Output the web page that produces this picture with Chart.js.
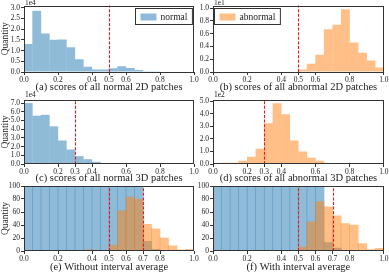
<!DOCTYPE html>
<html>
<head>
<meta charset="utf-8">
<script src="https://cdn.jsdelivr.net/npm/chart.js@4.4.1/dist/chart.umd.min.js"></script>
<style>
  html, body { margin: 0; padding: 0; background: #fff; }
  #wrap { position: relative; width: 389px; height: 272px; overflow: hidden; }
  canvas { position: absolute; }
</style>
</head>
<body>
<div id="wrap">
  <canvas id="panelA"></canvas>
  <canvas id="panelB"></canvas>
  <canvas id="panelC"></canvas>
  <canvas id="panelD"></canvas>
  <canvas id="panelE"></canvas>
  <canvas id="panelF"></canvas>
</div>
<script>
// histogram bins of width 0.05 on [0, 1]
const binCenters = [0.025, 0.075, 0.125, 0.175, 0.225, 0.275, 0.325, 0.375, 0.425, 0.475,
                    0.525, 0.575, 0.625, 0.675, 0.725, 0.775, 0.825, 0.875, 0.925, 0.975];

// (a) normal 2D (x1e4), (b) abnormal 2D (x1e1)
const normal2D   = [1.30, 2.85, 1.80, 1.50, 1.52, 1.15, 0.60, 0.24, 0.12, 0.12, 0.17, 0.27, 0.19, 0.09, 0.04, 0.01, 0, 0, 0, 0];
const abnormal2D = [0, 0, 0, 0, 0, 0, 0, 0, 0, 0, 0.04, 0.13, 0.27, 0.67, 0.74, 0.98, 0.46, 0.30, 0.18, 0.07];
// (c) normal 3D (x1e4), (d) abnormal 3D (x1e2)
const normal3D   = [7.00, 5.55, 5.65, 4.33, 2.70, 1.67, 0.90, 0.55, 0.25, 0.07, 0.02, 0, 0, 0, 0, 0, 0, 0, 0, 0];
const abnormal3D = [0.08, 0.10, 0.10, 0.26, 0.57, 1.22, 3.25, 4.85, 3.96, 1.87, 1.00, 0.50, 0.26, 0.05, 0.02, 0, 0, 0, 0, 0];
// (e) without / (f) with interval average; y axis cut at 100, normal counts go far above it
const normalNoAvg   = [9000, 7100, 7200, 5600, 3500, 2200, 1200, 700, 420, 260, 190, 160, 140, 115, 15, 2.5, 0, 0, 0, 0];
const abnormalNoAvg = [0, 0, 0, 0, 0, 0, 0, 2, 0, 0, 9, 62, 83, 79.5, 41, 34, 20, 8, 1.5, 2.5];
const normalAvg     = [9000, 7100, 7200, 5600, 3500, 2200, 1200, 700, 420, 260, 190, 150, 120, 13, 4.5, 0, 0, 0, 0, 0];
const abnormalAvg   = [0, 0, 0, 0, 0, 0, 0, 0, 0, 0, 6, 45, 76, 68, 54, 42, 40, 11.5, 2, 4];

const xTicks2D  = [0, 0.2, 0.4, 0.5, 0.6, 0.8, 1.0];
const xTicks3D  = [0, 0.2, 0.3, 0.4, 0.6, 0.8, 1.0];
const xTicksMix = [0, 0.2, 0.4, 0.5, 0.6, 0.7, 0.8, 1.0];
const yTicksA = [0, 0.5, 1.0, 1.5, 2.0, 2.5, 3.0];
const yTicksB = [0, 0.2, 0.4, 0.6, 0.8, 1.0];
const yTicksC = [0, 1, 2, 3, 4, 5, 6, 7];
const yTicksD = [0, 1, 2, 3, 4, 5];
const yTicksEF = [0, 20, 40, 60, 80, 100];

const captions = [
  '(a) scores of all normal 2D patches',
  '(b) scores of all abnormal 2D patches',
  '(c) scores of all normal 3D patches',
  '(d) scores of all abnormal 3D patches',
  '(e) Without interval average',
  '(f) With interval average'
];

// alpha 0.5 colours for the overlapping panels, their solid look-alikes for single ones
const BLUE = 'rgba(31,119,180,0.5)';
const ORANGE = 'rgba(255,127,14,0.5)';
const BLUE_SOLID = '#8fbbd9';
const ORANGE_SOLID = '#ffbf87';
const INK = '#222';
const SERIF = "'Liberation Serif', 'Times New Roman', serif";

Chart.defaults.font.family = SERIF;
Chart.defaults.color = INK;

// canvas boxes: T/H canvas top+height, PT/PB plot top/bottom, C caption centre
const ROWS = [
  {T: 0,   H: 94, PT: 5,   PB: 72,  C: 87},
  {T: 88,  H: 96, PT: 100, PB: 164, C: 178},
  {T: 178, H: 94, PT: 186, PB: 251, C: 267}
];
const COLS = [
  {L: 0,   W: 200, PL: 24,  PR: 194},
  {L: 195, W: 194, PL: 213, PR: 385}
];

const decor = {
  id: 'decor',
  afterDatasetsDraw(chart, args, o) {
    const {ctx, chartArea: a, scales: {x}} = chart;
    ctx.save();
    ctx.strokeStyle = '#e3191c';
    ctx.lineWidth = 1.1;
    ctx.setLineDash([3, 1.6]);
    (o.cuts || []).forEach(v => {
      const px = Math.round(x.getPixelForValue(v)) + 0.5;
      ctx.beginPath();
      ctx.moveTo(px, a.bottom);
      ctx.lineTo(px, a.top);
      ctx.stroke();
    });
    ctx.restore();
  },
  afterDraw(chart, args, o) {
    const {ctx, chartArea: a} = chart;
    ctx.save();
    // frame
    ctx.strokeStyle = '#333';
    ctx.lineWidth = 1;
    ctx.strokeRect(Math.round(a.left) + 0.5, Math.round(a.top) + 0.5,
                   Math.round(a.width) - 1, Math.round(a.height) - 1);
    // offset text like 1e4
    if (o.offset) {
      ctx.fillStyle = INK;
      ctx.font = '7.5px ' + SERIF;
      ctx.textAlign = 'left';
      ctx.textBaseline = 'middle';
      ctx.fillText(o.offset, a.left + 1, Math.max(3.5, a.top - 5));
    }
    // legend box
    if (o.legend) {
      ctx.font = '9.5px ' + SERIF;
      const tw = ctx.measureText(o.legend.text).width;
      const w = 5 + 16 + 4 + tw + 5, h = 16;
      const bx = Math.round(o.legend.side === 'right' ? a.right - 2 - w : a.left + 1) + 0.5;
      const by = Math.round(a.top + 2) + 0.5;
      ctx.fillStyle = 'rgba(255,255,255,0.8)';
      ctx.fillRect(bx, by, w, h);
      ctx.strokeStyle = '#333';
      ctx.strokeRect(bx, by, w, h);
      ctx.fillStyle = o.legend.color;
      ctx.fillRect(bx + 5, by + 5, 16, 7);
      ctx.fillStyle = INK;
      ctx.textAlign = 'left';
      ctx.textBaseline = 'middle';
      ctx.fillText(o.legend.text, bx + 25, by + 8.5);
    }
    ctx.restore();
  }
};

function makePanel(id, row, col, p) {
  const r = ROWS[row], c = COLS[col];
  const cv = document.getElementById(id);
  cv.width = c.W;
  cv.height = r.H;
  cv.style.left = c.L + 'px';
  cv.style.top = r.T + 'px';

  const single = p.series.length === 1;
  const datasets = p.series.map((s, k) => ({
    data: binCenters.map((x, i) => ({x: x, y: s.values[i]})),
    backgroundColor: s.color,
    borderWidth: 0,
    // solid bars overlap a hair so no seams show between them
    barPercentage: single ? 1.04 : 1,
    categoryPercentage: 1,
    grouped: false,
    order: p.series.length - k
  }));

  const capFont = {size: 10.5, lineHeight: 1};
  new Chart(cv, {
    type: 'bar',
    data: {datasets: datasets},
    options: {
      responsive: false,
      animation: false,
      devicePixelRatio: 1,
      layout: {padding: {left: 0, right: c.L + c.W - c.PR, top: r.PT - r.T, bottom: 0}},
      scales: {
        x: {
          type: 'linear', min: 0, max: 1, offset: false,
          afterBuildTicks: s => { s.ticks = p.xTicks.map(v => ({value: v})); },
          afterFit: s => { s.height = r.T + r.H - r.PB; },
          ticks: {autoSkip: false, maxRotation: 0, minRotation: 0, padding: 0.5,
                  font: {size: 7.5}, color: INK, callback: v => Number(v).toFixed(1)},
          grid: {offset: false, drawOnChartArea: false, tickLength: 3, color: '#333'},
          border: {display: false},
          title: {display: true, text: p.caption, font: capFont, color: INK,
                  padding: {top: 0, bottom: Math.max(0, r.T + r.H - r.C - capFont.size / 2)}}
        },
        y: {
          min: 0, max: p.yMax,
          afterBuildTicks: s => { s.ticks = p.yTicks.map(v => ({value: v})); },
          afterFit: s => { s.width = c.PL - c.L; },
          ticks: {autoSkip: false, padding: 1, font: {size: 7.5}, color: INK, callback: p.yFmt},
          grid: {drawOnChartArea: false, tickLength: 3, color: '#333'},
          border: {display: false},
          title: {display: col === 0, text: 'Quantity', font: {size: 9.5, lineHeight: 1},
                  color: INK, padding: {top: 1, bottom: 0}}
        }
      },
      plugins: {
        legend: {display: false},
        tooltip: {enabled: false},
        decor: {cuts: p.cuts, offset: p.offset, legend: p.legend}
      }
    },
    plugins: [decor]
  });
}

const fmt1 = v => Number(v).toFixed(1);
const fmt0 = v => String(Math.round(v));

makePanel('panelA', 0, 0, {
  series: [{values: normal2D, color: BLUE_SOLID}],
  xTicks: xTicks2D, yTicks: yTicksA, yMax: 3.1, yFmt: fmt1,
  cuts: [0.5], offset: '1e4', caption: captions[0],
  legend: {text: 'normal', color: BLUE_SOLID, side: 'right'}
});
makePanel('panelB', 0, 1, {
  series: [{values: abnormal2D, color: ORANGE_SOLID}],
  xTicks: xTicks2D, yTicks: yTicksB, yMax: 1.04, yFmt: fmt1,
  cuts: [0.5], offset: '1e1', caption: captions[1],
  legend: {text: 'abnormal', color: ORANGE_SOLID, side: 'left'}
});
makePanel('panelC', 1, 0, {
  series: [{values: normal3D, color: BLUE_SOLID}],
  xTicks: xTicks3D, yTicks: yTicksC, yMax: 7.35, yFmt: fmt1,
  cuts: [0.3], offset: '1e4', caption: captions[2]
});
makePanel('panelD', 1, 1, {
  series: [{values: abnormal3D, color: ORANGE_SOLID}],
  xTicks: xTicks3D, yTicks: yTicksD, yMax: 5.1, yFmt: fmt1,
  cuts: [0.3], offset: '1e2', caption: captions[3]
});
makePanel('panelE', 2, 0, {
  series: [{values: normalNoAvg, color: BLUE}, {values: abnormalNoAvg, color: ORANGE}],
  xTicks: xTicksMix, yTicks: yTicksEF, yMax: 100, yFmt: fmt0,
  cuts: [0.5, 0.7], caption: captions[4]
});
makePanel('panelF', 2, 1, {
  series: [{values: normalAvg, color: BLUE}, {values: abnormalAvg, color: ORANGE}],
  xTicks: xTicksMix, yTicks: yTicksEF, yMax: 100, yFmt: fmt0,
  cuts: [0.5, 0.7], caption: captions[5]
});
</script>
</body>
</html>
